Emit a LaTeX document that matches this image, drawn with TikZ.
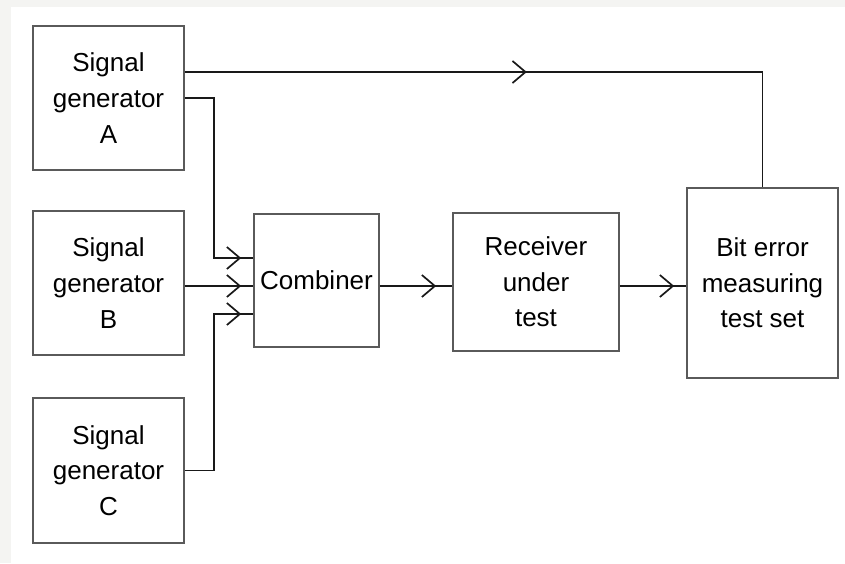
\documentclass[tikz,border=0pt]{standalone}
\usepackage{fontspec}
\setmainfont{Liberation Sans}
\usetikzlibrary{positioning, arrows.meta, decorations.markings, calc}
\definecolor{pagegray}{HTML}{F4F4F2}
\definecolor{boxline}{HTML}{5A5A5A}

\begin{document}
\begin{tikzpicture}[
    x=0.5pt, y=-0.5pt,
    blk/.style={draw=boxline, line width=0.8pt, inner sep=0pt, align=center,
        font=\fontsize{13}{17.8}\selectfont},
    wire/.style={line width=0.85pt, black!90},
    midarrow/.style={wire, postaction={decorate}, decoration={markings,
        mark=at position #1 with {\arrow{Straight Barb[length=6.5pt,width=11pt]}}}}
]
    % page with a light strip on the left and top
    \fill[pagegray] (0,0) rectangle (845,563);
    \fill[white] (11,7) rectangle (845,563);
    \useasboundingbox (0,0) rectangle (845,563);

    % signal sources on the left
    \node[blk, minimum width=75.5pt, minimum height=72pt] (sigA) at (108.5,98) {Signal\\generator\\A};
    \node[blk, minimum width=75.5pt, minimum height=72pt] (sigB) at (108.5,283) {Signal\\generator\\B};
    \node[blk, minimum width=75.5pt, minimum height=72.5pt] (sigC) at (108.5,470.5) {Signal\\generator\\C};

    % chain towards the test set
    \node[blk, minimum width=62.5pt, minimum height=66.5pt] (comb) at (316.5,280.5) {\raisebox{-2.5pt}{Combiner}};
    \node[blk, minimum width=83pt, minimum height=69pt] (recv) at (536,282) {Receiver\\under\\test};
    \node[blk, minimum width=75.5pt, minimum height=95pt] (ber) at (762.5,283) {Bit error\\measuring\\test set};

    % routing points
    \coordinate (bus) at (0,286);
    \coordinate (ref) at (0,72);
    \coordinate (inA) at (214,258);
    \coordinate (inC) at (214,314);

    % inputs of the combiner
    \draw[midarrow=-6pt] (sigA.east) -| (inA) -- (comb.west |- inA);
    \draw[midarrow=-6pt] (sigB.east |- bus) -- (comb.west |- bus);
    \draw[midarrow=-6pt] (sigC.east) -| (inC) -- (comb.west |- inC);

    % main signal path
    \draw[midarrow=-8pt] (comb.east |- bus) -- (recv.west |- bus);
    \draw[midarrow=-6pt] (recv.east |- bus) -- (ber.west |- bus);

    % reference line from generator A
    \draw[midarrow=171pt] (sigA.east |- ref) -| (ber.north);
\end{tikzpicture}
\end{document}
